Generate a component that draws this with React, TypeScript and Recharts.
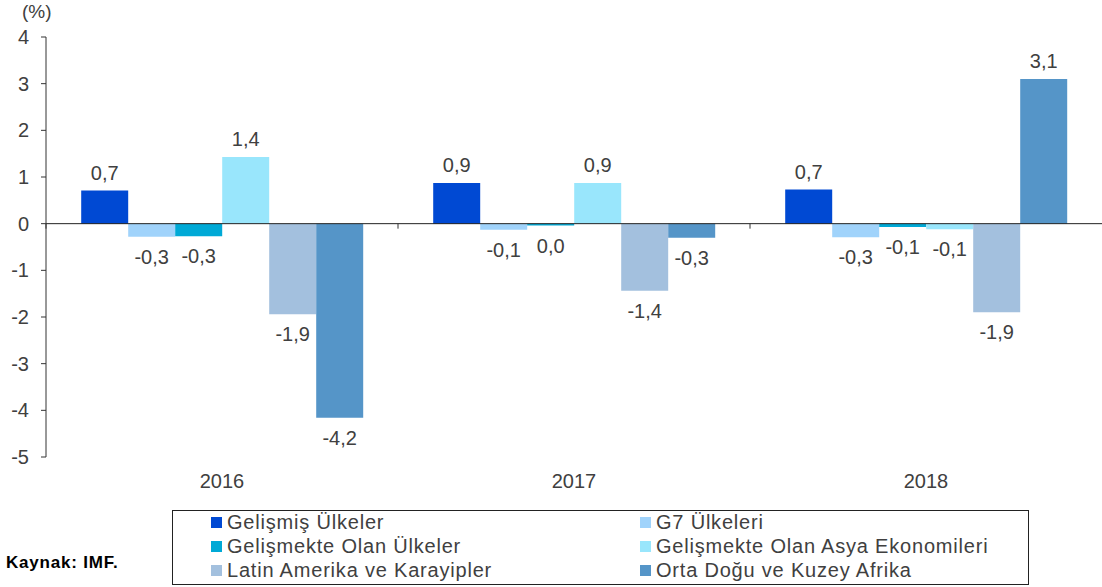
import React from "react";
import {
  BarChart,
  Bar,
  XAxis,
  YAxis,
  ReferenceLine,
  LabelList,
} from "recharts";

const years = ["2016", "2017", "2018"];
const gelismis = [0.71, 0.87, 0.73];
const g7 = [-0.28, -0.13, -0.29];
const gelismekte = [-0.27, -0.04, -0.07];
const asya = [1.43, 0.87, -0.12];
const latin = [-1.94, -1.44, -1.9];
const ortaDogu = [-4.16, -0.3, 3.1];
const yTicks = [-5, -4, -3, -2, -1, 0, 1, 2, 3, 4];

const seriesNames = [
  "Gelişmiş Ülkeler",
  "G7 Ülkeleri",
  "Gelişmekte Olan Ülkeler",
  "Gelişmekte Olan Asya Ekonomileri",
  "Latin Amerika ve Karayipler",
  "Orta Doğu ve Kuzey Afrika",
];
const seriesColors = ["#0049d3", "#a0d3fb", "#00a9d6", "#99e6fc", "#a3c0de", "#5595c8"];
const seriesValues = [gelismis, g7, gelismekte, asya, latin, ortaDogu];
const keys = ["s0", "s1", "s2", "s3", "s4", "s5"];

const data = years.map((year, i) => {
  const row: Record<string, any> = { year };
  seriesValues.forEach((vals, s) => (row[keys[s]] = vals[i]));
  return row;
});

// layout
const W = 1102;
const H = 587;
const TOP = 37;
const AXIS_W = 46;
const XAXIS_H = 130;
const PLOT_H = H - TOP - XAXIS_H;
const Y_MIN = -5;
const Y_MAX = 4;
const zeroY = TOP + (Y_MAX / (Y_MAX - Y_MIN)) * PLOT_H;
const FONT = "'Liberation Sans', Arial, sans-serif";

const fmt = (v: number) => {
  let s = v.toFixed(1);
  if (s === "-0.0") s = "0.0";
  return s.replace(".", ",");
};

const BarLabel = (props: any) => {
  const { x, y, width, height, value } = props;
  const top = Math.min(y, y + height);
  const bottom = Math.max(y, y + height);
  const cx = x + width / 2;
  const ty = value >= 0 ? top - 11 : bottom + 27;
  return (
    <text x={cx} y={ty} textAnchor="middle" fontSize={20} fill="#404040" fontFamily={FONT}>
      {fmt(value)}
    </text>
  );
};

const YearTick = (props: any) => {
  const { x, payload } = props;
  const half = payload.offset || (W - AXIS_W) / years.length / 2;
  return (
    <g>
      <line x1={x - half} x2={x - half} y1={zeroY} y2={zeroY + 5} stroke="#333" />
      <text x={x} y={488} textAnchor="middle" fontSize={20} fill="#404040" fontFamily={FONT}>
        {payload.value}
      </text>
    </g>
  );
};

const App: React.FC = () => {
  return (
    <div
      style={{
        position: "absolute",
        left: 0,
        top: 0,
        width: W,
        height: H,
        overflow: "hidden",
        fontFamily: FONT,
      }}
    >
      <BarChart
        width={W}
        height={H}
        data={data}
        margin={{ top: TOP, right: 0, bottom: 0, left: 0 }}
        barCategoryGap="10%"
        barGap={0}
      >
        <XAxis
          dataKey="year"
          height={XAXIS_H}
          axisLine={false}
          tickLine={false}
          tick={<YearTick />}
          interval={0}
        />
        <YAxis
          width={AXIS_W}
          domain={[Y_MIN, Y_MAX]}
          ticks={yTicks}
          interval={0}
          axisLine={{ stroke: "#333" }}
          tickLine={{ stroke: "#333" }}
          tickSize={5}
          tickMargin={12}
          tick={{ fontSize: 20, fill: "#404040", fontFamily: FONT }}
        />
        <ReferenceLine y={0} stroke="#222" strokeWidth={1} />
        {keys.map((k, s) => (
          <Bar key={k} dataKey={k} name={seriesNames[s]} fill={seriesColors[s]} isAnimationActive={false}>
            <LabelList dataKey={k} content={<BarLabel />} />
          </Bar>
        ))}
      </BarChart>
      <div
        style={{
          position: "absolute",
          left: 22,
          top: 1,
          fontSize: 19,
          lineHeight: "22px",
          color: "#404040",
        }}
      >
        (%)
      </div>
      <div
        style={{
          position: "absolute",
          left: 172,
          top: 510,
          width: 857,
          height: 75,
          border: "1px solid #222",
          boxSizing: "border-box",
        }}
      >
        {seriesNames.map((name, s) => {
          const col = s % 2;
          const row = Math.floor(s / 2);
          return (
            <div
              key={name}
              style={{
                position: "absolute",
                left: col === 0 ? 38 : 467,
                top: row * 24 + 0,
                display: "flex",
                alignItems: "center",
                height: 22,
                fontSize: 20,
                lineHeight: "22px",
                letterSpacing: 0.8,
                color: "#404040",
                whiteSpace: "nowrap",
              }}
            >
              <span
                style={{
                  display: "inline-block",
                  width: 11,
                  height: 11,
                  background: seriesColors[s],
                  marginRight: 5,
                }}
              />
              {name}
            </div>
          );
        })}
      </div>
      <div
        style={{
          position: "absolute",
          left: 6,
          top: 552,
          fontSize: 17,
          lineHeight: "22px",
          letterSpacing: 0.8,
          fontWeight: "bold",
          color: "#000",
        }}
      >
        Kaynak: IMF.
      </div>
    </div>
  );
};

export default App;
